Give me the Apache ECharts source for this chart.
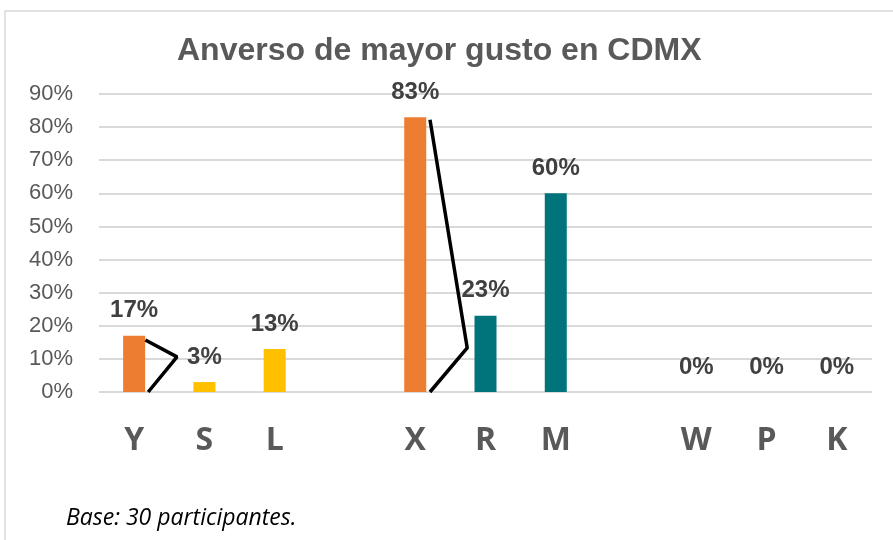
<!DOCTYPE html>
<html>
<head>
<meta charset="utf-8">
<script src="https://cdn.jsdelivr.net/npm/echarts@6/dist/echarts.min.js"></script>
<style>
  html, body { margin: 0; padding: 0; background: #fff; }
  #chart { width: 893px; height: 540px; }
</style>
</head>
<body>
<div id="chart"></div>
<script>
(function() {
  // empty strings are the gaps between the three groups
  var categories = ["Y", "S", "L", "", "X", "R", "M", "", "W", "P", "K"];
  var values = [17, 3, 13, null, 83, 23, 60, null, 0, 0, 0];
  var barColors = ["#ED7D31", "#FFC000", "#FFC000", null, "#ED7D31", "#00747A", "#00747A", null, "#00747A", "#00747A", "#00747A"];
  var yTicks = [0, 10, 20, 30, 40, 50, 60, 70, 80, 90];
  // hand-drawn ">" marks, [category position, percent]
  var markA = [[0.16, 15.7], [0.61, 10.6], [0.2, 0]];
  var markB = [[4.21, 82.2], [4.74, 13.3], [4.21, 0]];

  var myChart = echarts.init(document.getElementById("chart"));

  var barData = values.map(function(v, i) {
    return { value: v, itemStyle: { color: barColors[i] || "#00747A" } };
  });

  var option = {
    animation: false,
    graphic: [
      {
        type: "rect",
        shape: { x: 5, y: 11, width: 900, height: 540 },
        style: { fill: "none", stroke: "#d9d9d9", lineWidth: 1.5 },
        silent: true
      }
    ],
    title: [
      {
        text: "Anverso de mayor gusto en CDMX",
        left: 172,
        top: 30,
        textStyle: {
          fontFamily: "Liberation Sans",
          fontSize: 32,
          fontWeight: "bold",
          color: "#595959"
        }
      },
      {
        text: "Base: 30 participantes.",
        left: 61,
        top: 502,
        textStyle: {
          fontFamily: "Open Sans",
          fontSize: 23,
          fontStyle: "italic",
          fontWeight: "normal",
          color: "#000"
        }
      }
    ],
    grid: { left: 99, right: 21, top: 94, bottom: 148 },
    xAxis: [
      {
        type: "category",
        data: categories,
        axisLine: { show: false },
        axisTick: { show: false },
        axisLabel: {
          interval: 0,
          margin: 33,
          fontFamily: "Open Sans",
          fontSize: 32,
          fontWeight: "bold",
          color: "#595959"
        }
      },
      {
        type: "value",
        min: -0.5,
        max: 10.5,
        show: false
      }
    ],
    yAxis: {
      type: "value",
      min: yTicks[0],
      max: yTicks[yTicks.length - 1],
      interval: 10,
      axisLine: { show: false },
      axisTick: { show: false },
      splitLine: { lineStyle: { color: "#d9d9d9", width: 2 } },
      axisLabel: {
        margin: 26,
        fontFamily: "Liberation Sans",
        fontSize: 22,
        color: "#595959",
        formatter: "{value}%"
      }
    },
    series: [
      {
        type: "bar",
        data: barData,
        barWidth: 22,
        label: {
          show: true,
          position: "top",
          distance: 13,
          fontFamily: "Liberation Sans",
          fontSize: 24,
          fontWeight: "bold",
          color: "#404040",
          formatter: "{c}%"
        }
      },
      {
        type: "line",
        xAxisIndex: 1,
        data: markA,
        symbol: "none",
        lineStyle: { color: "#000", width: 3.5 },
        silent: true
      },
      {
        type: "line",
        xAxisIndex: 1,
        data: markB,
        symbol: "none",
        lineStyle: { color: "#000", width: 3.5 },
        silent: true
      }
    ]
  };

  myChart.setOption(option);
  window.addEventListener("resize", function() {
    myChart.resize();
  });
})();
</script>
</body>
</html>
